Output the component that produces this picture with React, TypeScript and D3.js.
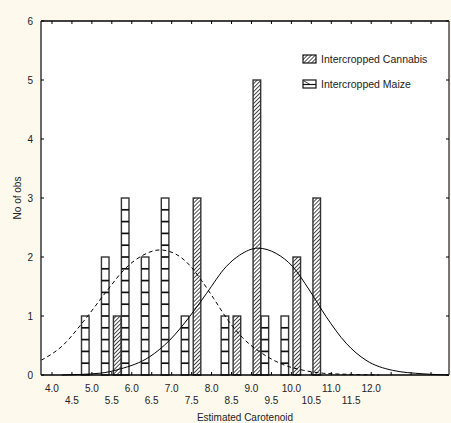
import { useEffect, useRef } from 'react'
import * as d3 from 'd3'

// histogram bins (centre of each 0.5-wide class)
const bins = [5.0, 5.5, 6.0, 6.5, 7.0, 7.5, 8.0, 8.5, 9.0, 9.5, 10.0, 10.5]
const maizeCounts = [1, 2, 3, 2, 3, 1, 0, 1, 0, 1, 1, 0]
const cannabisCounts = [0, 1, 0, 0, 0, 3, 0, 1, 5, 0, 2, 3]

// fitted normal curves
const maizeCurve: [number, number][] = [
  [3.73, 0.25], [4.27, 0.5], [4.78, 0.9], [5.37, 1.42], [5.83, 1.8], [6.28, 2.03],
  [6.7, 2.12], [7.1, 2.05], [7.45, 1.86], [7.75, 1.6], [8.05, 1.3], [8.41, 0.93],
  [8.78, 0.63], [9.28, 0.36], [9.78, 0.18], [10.3, 0.08], [10.8, 0.03], [11.5, 0.01], [12.2, 0]
]
const cannabisCurve: [number, number][] = [
  [4.25, 0], [5.2, 0.03], [5.7, 0.1], [6.45, 0.31], [6.95, 0.59], [7.45, 0.99],
  [7.87, 1.38], [8.37, 1.84], [8.7, 2.03], [9.16, 2.15], [9.62, 2.06], [10.03, 1.84],
  [10.45, 1.44], [10.87, 0.99], [11.37, 0.54], [11.87, 0.25], [12.53, 0.08], [13.3, 0.02], [13.95, 0]
]

const topRowLabels = ['4.0', '5.0', '6.0', '7.0', '8.0', '9.0', '10.0', '11.0', '12.0']
const bottomRowLabels = ['4.5', '5.5', '6.5', '7.5', '8.5', '9.5', '10.5', '11.5']
const yTicks = [0, 1, 2, 3, 4, 5, 6]
const minorTicks = d3.range(4.0, 13.51, 0.5)

const W = 451
const H = 423
const FONT = '"Liberation Sans", Arial, sans-serif'

export default function App() {
  const svgRef = useRef<SVGSVGElement>(null)

  useEffect(() => {
    if (!svgRef.current) return
    const svg = d3.select(svgRef.current)
    svg.selectAll('*').remove()

    const left = 41
    const right = 449
    const top = 21
    const bottom = 375

    const x = d3.scaleLinear().domain([3.725, 13.95]).range([left, right])
    const y = d3.scaleLinear().domain([0, 6]).range([bottom, top])

    // background
    svg.append('rect').attr('width', W).attr('height', H).attr('fill', '#fdf9ed')
    svg.append('rect')
      .attr('x', left).attr('y', top)
      .attr('width', right - left).attr('height', bottom - top)
      .attr('fill', '#fff')

    // hatch pattern for cannabis
    const defs = svg.append('defs')
    const pat = defs.append('pattern')
      .attr('id', 'hatch')
      .attr('patternUnits', 'userSpaceOnUse')
      .attr('width', 2.8).attr('height', 2.8)
      .attr('patternTransform', 'rotate(45)')
    pat.append('rect').attr('width', 2.8).attr('height', 2.8).attr('fill', '#fff')
    pat.append('line')
      .attr('x1', 0).attr('y1', 0).attr('x2', 0).attr('y2', 2.8)
      .attr('stroke', '#222').attr('stroke-width', 1.6)

    const g = svg.append('g')

    // maize bars: white boxes split every 0.2
    bins.forEach((c, i) => {
      const v = maizeCounts[i]
      if (!v) return
      const x0 = x(c - 0.26)
      const x1 = x(c - 0.07)
      g.append('rect')
        .attr('x', x0).attr('y', y(v))
        .attr('width', x1 - x0).attr('height', y(0) - y(v))
        .attr('fill', '#fff').attr('stroke', '#333').attr('stroke-width', 1.4)
      d3.range(0.2, v - 0.01, 0.2).forEach(k => {
        g.append('line')
          .attr('x1', x0).attr('x2', x1)
          .attr('y1', y(k)).attr('y2', y(k))
          .attr('stroke', '#111').attr('stroke-width', 1.7)
      })
    })

    // cannabis bars
    bins.forEach((c, i) => {
      const v = cannabisCounts[i]
      if (!v) return
      const x0 = x(c + 0.04)
      const x1 = x(c + 0.23)
      g.append('rect')
        .attr('x', x0).attr('y', y(v))
        .attr('width', x1 - x0).attr('height', y(0) - y(v))
        .attr('fill', 'url(#hatch)').attr('stroke', '#333').attr('stroke-width', 1.4)
    })

    // fitted curves
    const line = d3.line<[number, number]>()
      .x(d => x(d[0]))
      .y(d => y(d[1]))
      .curve(d3.curveMonotoneX)

    g.append('path')
      .datum(maizeCurve)
      .attr('d', line)
      .attr('fill', 'none').attr('stroke', '#000').attr('stroke-width', 1)
      .attr('stroke-dasharray', '4,3')

    g.append('path')
      .datum(cannabisCurve)
      .attr('d', line)
      .attr('fill', 'none').attr('stroke', '#000').attr('stroke-width', 1)

    // frame
    svg.append('line').attr('x1', left).attr('x2', right).attr('y1', top).attr('y2', top)
      .attr('stroke', '#000').attr('stroke-width', 1.3)
    svg.append('line').attr('x1', left).attr('x2', right).attr('y1', bottom).attr('y2', bottom)
      .attr('stroke', '#000').attr('stroke-width', 1.3)
    svg.append('line').attr('x1', left).attr('x2', left).attr('y1', top).attr('y2', bottom)
      .attr('stroke', '#444').attr('stroke-width', 1.6)
    svg.append('line').attr('x1', right).attr('x2', right).attr('y1', top).attr('y2', bottom)
      .attr('stroke', '#555').attr('stroke-width', 1.6)

    // minor x ticks, inward on top and bottom
    minorTicks.forEach(t => {
      svg.append('line').attr('x1', x(t)).attr('x2', x(t)).attr('y1', top).attr('y2', top + 3)
        .attr('stroke', '#000')
      svg.append('line').attr('x1', x(t)).attr('x2', x(t)).attr('y1', bottom).attr('y2', bottom - 3)
        .attr('stroke', '#000')
    })

    // y ticks inward on left and right
    yTicks.forEach(t => {
      svg.append('line').attr('x1', left).attr('x2', left + 3).attr('y1', y(t)).attr('y2', y(t))
        .attr('stroke', '#000')
      svg.append('line').attr('x1', right).attr('x2', right - 3).attr('y1', y(t)).attr('y2', y(t))
        .attr('stroke', '#000')
      svg.append('text')
        .attr('x', left - 8).attr('y', y(t)).attr('dy', '0.35em')
        .attr('text-anchor', 'end')
        .style('font-family', FONT).style('font-size', '10px').attr('fill', '#222')
        .text(t)
    })

    // x labels in two rows
    topRowLabels.forEach(l => {
      svg.append('text')
        .attr('x', x(+l)).attr('y', 392)
        .attr('text-anchor', 'middle')
        .style('font-family', FONT).style('font-size', '10px').attr('fill', '#222')
        .text(l)
    })
    bottomRowLabels.forEach(l => {
      svg.append('text')
        .attr('x', x(+l)).attr('y', 404)
        .attr('text-anchor', 'middle')
        .style('font-family', FONT).style('font-size', '10px').attr('fill', '#222')
        .text(l)
    })

    // axis titles
    svg.append('text')
      .attr('x', 245).attr('y', 421)
      .attr('text-anchor', 'middle')
      .style('font-family', FONT).style('font-size', '10px').attr('fill', '#222')
      .text('Estimated Carotenoid')
    svg.append('text')
      .attr('transform', `translate(21,${(top + bottom) / 2}) rotate(-90)`)
      .attr('text-anchor', 'middle')
      .style('font-family', FONT).style('font-size', '10px').attr('fill', '#222')
      .text('No of obs')

    // legend
    const legendData = [
      { label: 'Intercropped Cannabis', y: 55, kind: 'cannabis' },
      { label: 'Intercropped Maize', y: 80, kind: 'maize' }
    ]
    legendData.forEach(item => {
      const lg = svg.append('g').attr('transform', `translate(303,${item.y})`)
      lg.append('rect')
        .attr('width', 13).attr('height', 8)
        .attr('fill', item.kind === 'cannabis' ? 'url(#hatch)' : '#fff')
        .attr('stroke', '#111').attr('stroke-width', 1.2)
      if (item.kind === 'maize') {
        lg.append('line').attr('x1', 0).attr('x2', 13).attr('y1', 4.5).attr('y2', 4.5)
          .attr('stroke', '#111').attr('stroke-width', 1.2)
        lg.append('line').attr('x1', 1).attr('x2', 7).attr('y1', 1).attr('y2', 4.5)
          .attr('stroke', '#111').attr('stroke-width', 0.8)
      }
      lg.append('text')
        .attr('x', 18).attr('y', 4).attr('dy', '0.35em')
        .style('font-family', FONT).style('font-size', '10.5px').attr('fill', '#222')
        .text(item.label)
    })
  }, [])

  return (
    <svg
      ref={svgRef}
      width={W}
      height={H}
      style={{ position: 'absolute', left: 0, top: 0, display: 'block' }}
    />
  )
}
